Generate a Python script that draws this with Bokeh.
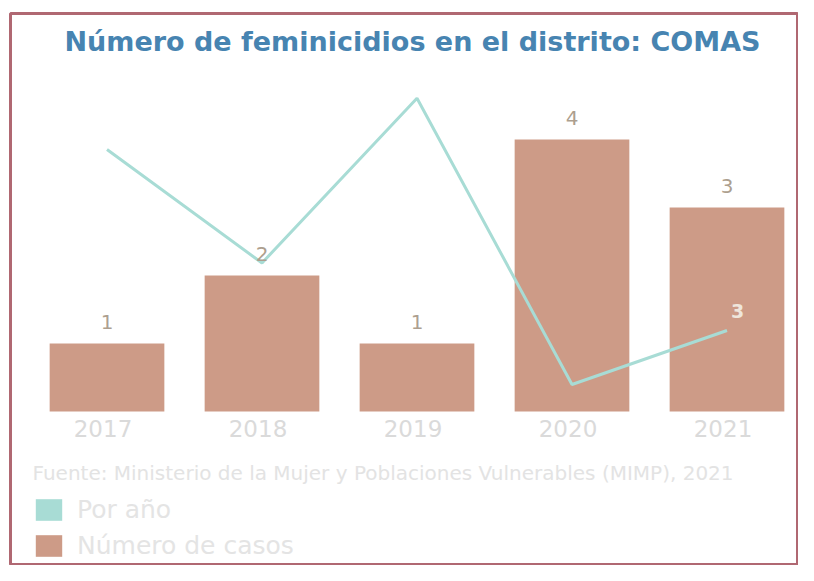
from bokeh.plotting import figure
from bokeh.models import (Range1d, ColumnDataSource, Label, Legend, LegendItem, LabelSet)
from bokeh.embed import file_html
from bokeh.resources import INLINE
from bokeh.core.properties import value

# ---- data ----
years = ["2017", "2018", "2019", "2020", "2021"]
casos = [1, 2, 1, 4, 3]
linea = [9.7, 5.5, 11.6, 1.0, 3.0]
casos_txt = [str(v) for v in casos]
titulo = "Número de feminicidios en el distrito: COMAS"
fuente = "Fuente: Ministerio de la Mujer y Poblaciones Vulnerables (MIMP), 2021"
leyenda = ["Por año", "Número de casos"]

FONT = "DejaVu Sans"
BAR = "#cd9b87"
TEAL = "#a8dcd5"

idx = list(range(len(years)))

p = figure(width=798, height=565, title=None,
           x_range=Range1d(-0.6226, 4.4613), y_range=Range1d(-2.265, 5.853),
           x_axis_type=None, y_axis_type=None,
           output_backend="svg", toolbar_location=None,
           min_border_left=10, min_border_right=0, min_border_top=13,
           min_border_bottom=0)
p.extra_y_ranges = {"linea": Range1d(-5.704, 14.74)}
p.xgrid.visible = False
p.ygrid.visible = False
p.outline_line_color = "#b06872"
p.outline_line_width = 3

src = ColumnDataSource(dict(x=idx, yr=years, top=casos, lab=casos_txt, lin=linea,
                            zero=[0] * len(years)))
bars = p.vbar(x="x", top="top", bottom=0, width=0.74, source=src,
              fill_color=BAR, line_color=None)
p.add_layout(LabelSet(x="x", y="top", text="lab", source=src, text_align="center",
                      text_baseline="bottom", y_offset=14, text_font_size="20px",
                      text_font=value(FONT), text_color="#ad9f8f"))

# category labels under the bars
p.text(x="x", y="zero", text="yr", source=src, x_offset=-4, y_offset=17,
       text_align="center", text_baseline="middle", text_font_size="23px",
       text_font=value(FONT), text_color="#dadada")

ln = p.line(x="x", y="lin", source=src, y_range_name="linea", line_color=TEAL, line_width=3)
last = ColumnDataSource(dict(x=[idx[-1]], y=[linea[-1]], t=[str(int(linea[-1]))]))
p.text(x="x", y="y", text="t", source=last, y_range_name="linea",
       x_offset=4, y_offset=-12, text_font_size="19px", text_font=value(FONT),
       text_font_style="bold", text_color="#efe6dc", text_baseline="bottom")

# legend swatch for the line series (hidden renderer, square swatch)
swatch = p.vbar(x="x", top="lin", width=0.7, source=src, y_range_name="linea",
                fill_color=TEAL, line_color=None, visible=False)

legend = Legend(items=[LegendItem(label=leyenda[0], renderers=[swatch]),
                       LegendItem(label=leyenda[1], renderers=[bars])],
                location=(22, 5), orientation="vertical", padding=0, margin=0,
                spacing=7, glyph_width=33, glyph_height=27, label_height=27,
                label_standoff=12, inactive_fill_alpha=0,
                label_text_font_size="25px", label_text_font=FONT,
                label_text_color="#e4e4e4", border_line_color=None,
                background_fill_alpha=0)
p.add_layout(legend, "center")

p.add_layout(Label(x=402, y=524, x_units="screen", y_units="screen", text=titulo,
                   text_align="center", text_baseline="middle",
                   text_font_size="27px", text_font=FONT, text_font_style="bold",
                   text_color="#4784b1"))

p.add_layout(Label(x=22, y=93, x_units="screen", y_units="screen", text=fuente,
                   text_baseline="middle", text_font_size="20px", text_font=FONT,
                   text_color="#e3e3e3"))

open("out.html", "w").write(file_html(p, INLINE))
